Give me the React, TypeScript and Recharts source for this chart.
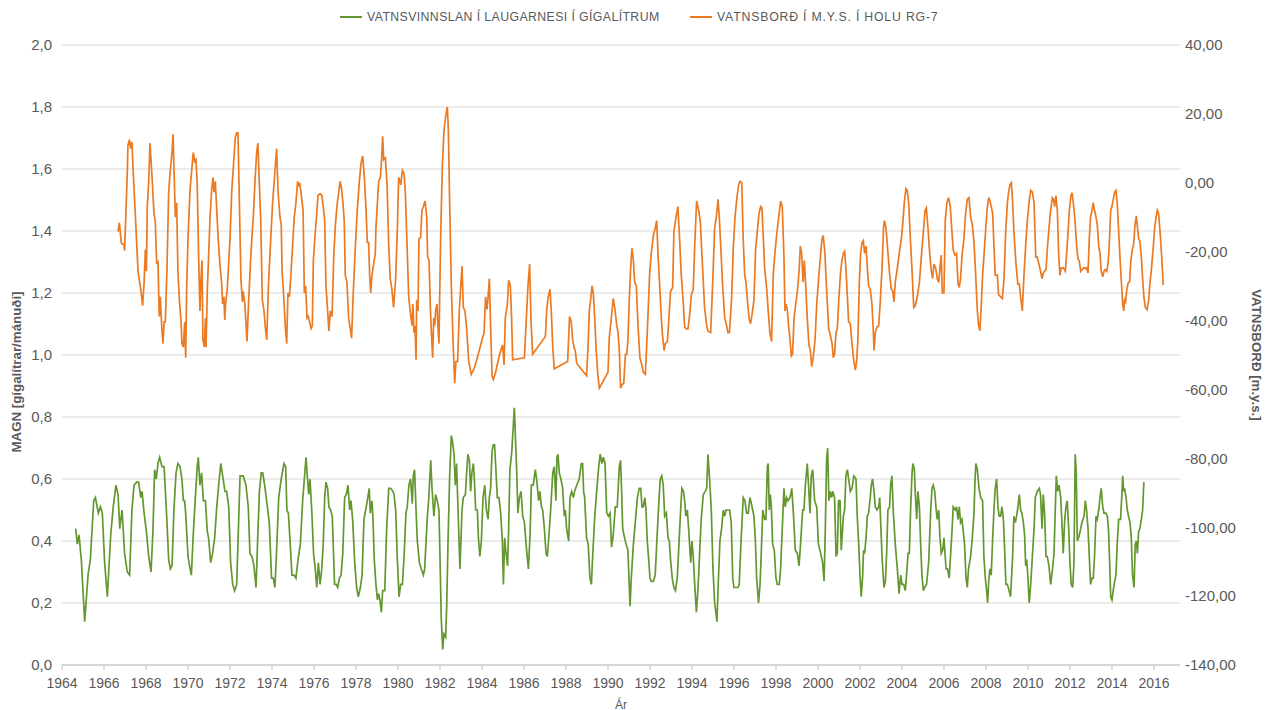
import React from 'react';
import { LineChart, Line, XAxis, YAxis, CartesianGrid } from 'recharts';

// [year, gigalitres per month]
const green1960s: [number, number][] = [
  [1964.65, 0.44], [1964.73, 0.39], [1964.81, 0.42], [1964.92, 0.34], [1965.08, 0.14], [1965.24, 0.29], [1965.35, 0.34],
  [1965.51, 0.53], [1965.59, 0.54], [1965.73, 0.49], [1965.83, 0.51], [1965.92, 0.49], [1966.03, 0.33], [1966.16, 0.22],
  [1966.32, 0.42], [1966.44, 0.51], [1966.57, 0.58], [1966.67, 0.55], [1966.75, 0.44], [1966.86, 0.5], [1966.98, 0.36],
  [1967.11, 0.3], [1967.22, 0.29], [1967.33, 0.5], [1967.43, 0.58], [1967.56, 0.59], [1967.65, 0.59], [1967.75, 0.54],
  [1967.81, 0.56], [1967.91, 0.49], [1968.02, 0.43], [1968.13, 0.35], [1968.24, 0.3], [1968.33, 0.43], [1968.41, 0.63],
  [1968.49, 0.6], [1968.57, 0.65], [1968.65, 0.67], [1968.76, 0.64], [1968.86, 0.64], [1968.97, 0.5], [1969.08, 0.34],
  [1969.16, 0.31], [1969.24, 0.32], [1969.33, 0.5], [1969.43, 0.62], [1969.52, 0.65], [1969.62, 0.64], [1969.71, 0.6],
  [1969.78, 0.53], [1969.84, 0.53], [1969.9, 0.48],
];

const green1970s: [number, number][] = [
  [1970.0, 0.35], [1970.1, 0.31], [1970.16, 0.29], [1970.25, 0.42], [1970.35, 0.54], [1970.44, 0.64], [1970.49, 0.67],
  [1970.57, 0.58], [1970.65, 0.62], [1970.73, 0.53], [1970.83, 0.53], [1970.92, 0.43], [1970.98, 0.41], [1971.08, 0.33],
  [1971.17, 0.36], [1971.27, 0.41], [1971.37, 0.51], [1971.46, 0.58], [1971.56, 0.65], [1971.65, 0.61], [1971.76, 0.56],
  [1971.84, 0.56], [1971.94, 0.51], [1972.03, 0.33], [1972.13, 0.26], [1972.22, 0.24], [1972.32, 0.26], [1972.4, 0.44],
  [1972.48, 0.61], [1972.56, 0.61], [1972.63, 0.61], [1972.76, 0.58], [1972.87, 0.51], [1972.95, 0.36], [1973.05, 0.35],
  [1973.14, 0.32], [1973.24, 0.25], [1973.32, 0.41], [1973.4, 0.56], [1973.49, 0.62], [1973.56, 0.62], [1973.65, 0.58],
  [1973.78, 0.51], [1973.87, 0.46], [1973.98, 0.28], [1974.06, 0.28], [1974.14, 0.25], [1974.22, 0.37], [1974.32, 0.54],
  [1974.44, 0.6], [1974.57, 0.65], [1974.65, 0.64], [1974.71, 0.5], [1974.78, 0.49], [1974.86, 0.4], [1974.95, 0.29],
  [1975.05, 0.29], [1975.14, 0.28], [1975.24, 0.34], [1975.35, 0.39], [1975.46, 0.53], [1975.54, 0.6], [1975.62, 0.67],
  [1975.68, 0.61], [1975.75, 0.55], [1975.81, 0.6], [1975.9, 0.49], [1975.98, 0.36], [1976.06, 0.31], [1976.13, 0.25],
  [1976.21, 0.33], [1976.29, 0.26], [1976.37, 0.31], [1976.44, 0.39], [1976.51, 0.54], [1976.57, 0.59], [1976.65, 0.57],
  [1976.71, 0.51], [1976.79, 0.5], [1976.87, 0.48], [1976.94, 0.34], [1976.98, 0.26], [1977.06, 0.26], [1977.13, 0.25],
  [1977.21, 0.28], [1977.29, 0.29], [1977.37, 0.36], [1977.46, 0.54], [1977.54, 0.55], [1977.62, 0.58], [1977.7, 0.5],
  [1977.76, 0.53], [1977.84, 0.47], [1977.94, 0.33], [1978.03, 0.25], [1978.11, 0.22], [1978.21, 0.25], [1978.29, 0.29],
  [1978.38, 0.47], [1978.46, 0.5], [1978.54, 0.53], [1978.63, 0.57], [1978.68, 0.49], [1978.76, 0.53], [1978.81, 0.47],
  [1978.87, 0.34], [1978.95, 0.26], [1979.02, 0.21], [1979.08, 0.23], [1979.14, 0.21], [1979.21, 0.17], [1979.27, 0.24],
  [1979.37, 0.24], [1979.46, 0.44], [1979.56, 0.57], [1979.65, 0.57], [1979.76, 0.56], [1979.81, 0.55], [1979.89, 0.5],
  [1979.97, 0.34],
];

const green1980s: [number, number][] = [
  [1980.05, 0.22], [1980.13, 0.26], [1980.21, 0.26], [1980.29, 0.35], [1980.38, 0.49], [1980.44, 0.51], [1980.52, 0.58],
  [1980.6, 0.6], [1980.68, 0.52], [1980.73, 0.61], [1980.79, 0.63], [1980.86, 0.5], [1980.92, 0.4], [1981.02, 0.33],
  [1981.11, 0.31], [1981.21, 0.29], [1981.27, 0.31], [1981.33, 0.39], [1981.4, 0.48], [1981.46, 0.53], [1981.56, 0.66],
  [1981.62, 0.57], [1981.71, 0.48], [1981.79, 0.55], [1981.87, 0.53], [1981.95, 0.5], [1982.0, 0.35], [1982.06, 0.15],
  [1982.13, 0.05], [1982.19, 0.1], [1982.27, 0.09], [1982.32, 0.19], [1982.38, 0.39], [1982.46, 0.61], [1982.54, 0.74],
  [1982.6, 0.72], [1982.67, 0.68], [1982.73, 0.58], [1982.79, 0.65], [1982.86, 0.5], [1982.95, 0.31], [1983.05, 0.5],
  [1983.11, 0.54], [1983.21, 0.55], [1983.27, 0.62], [1983.33, 0.68], [1983.4, 0.66], [1983.46, 0.56], [1983.52, 0.62],
  [1983.59, 0.65], [1983.63, 0.61], [1983.7, 0.5], [1983.78, 0.5], [1983.83, 0.41], [1983.9, 0.35], [1983.97, 0.4],
  [1984.05, 0.54], [1984.13, 0.58], [1984.21, 0.5], [1984.29, 0.47], [1984.35, 0.54], [1984.41, 0.57], [1984.48, 0.69],
  [1984.54, 0.71], [1984.6, 0.71], [1984.67, 0.62], [1984.73, 0.54], [1984.81, 0.54], [1984.89, 0.49], [1984.97, 0.4],
  [1985.02, 0.26], [1985.08, 0.41], [1985.13, 0.37], [1985.22, 0.32], [1985.27, 0.44], [1985.33, 0.63], [1985.41, 0.68],
  [1985.49, 0.77], [1985.54, 0.83], [1985.59, 0.74], [1985.65, 0.63], [1985.71, 0.49], [1985.78, 0.54], [1985.86, 0.56],
  [1985.94, 0.48], [1986.02, 0.46], [1986.1, 0.39], [1986.21, 0.31], [1986.29, 0.42], [1986.35, 0.58], [1986.44, 0.58],
  [1986.54, 0.63], [1986.6, 0.6], [1986.7, 0.53], [1986.76, 0.56], [1986.83, 0.51], [1986.89, 0.5], [1986.97, 0.44],
  [1987.05, 0.36], [1987.11, 0.35], [1987.17, 0.4], [1987.27, 0.5], [1987.37, 0.62], [1987.44, 0.64], [1987.52, 0.53],
  [1987.57, 0.67], [1987.62, 0.68], [1987.68, 0.62], [1987.76, 0.6], [1987.84, 0.57], [1987.92, 0.48], [1987.97, 0.5],
  [1988.03, 0.44], [1988.13, 0.4], [1988.19, 0.54], [1988.27, 0.56], [1988.35, 0.54], [1988.41, 0.56], [1988.51, 0.58],
  [1988.63, 0.6], [1988.73, 0.65], [1988.79, 0.65], [1988.84, 0.56], [1988.89, 0.54], [1988.98, 0.41], [1989.06, 0.39],
  [1989.14, 0.28], [1989.21, 0.26], [1989.27, 0.35], [1989.37, 0.48], [1989.46, 0.56], [1989.56, 0.64], [1989.63, 0.68],
  [1989.71, 0.65], [1989.78, 0.67], [1989.86, 0.65], [1989.94, 0.49],
];

const green1990s: [number, number][] = [
  [1990.02, 0.48], [1990.1, 0.49], [1990.17, 0.38], [1990.25, 0.42], [1990.35, 0.51], [1990.44, 0.51], [1990.54, 0.64],
  [1990.6, 0.66], [1990.65, 0.56], [1990.7, 0.44], [1990.76, 0.42], [1990.86, 0.39], [1990.95, 0.37], [1991.05, 0.19],
  [1991.11, 0.28], [1991.21, 0.39], [1991.3, 0.46], [1991.4, 0.54], [1991.49, 0.57], [1991.56, 0.57], [1991.62, 0.51],
  [1991.68, 0.51], [1991.76, 0.54], [1991.81, 0.5], [1991.87, 0.4], [1991.94, 0.34], [1992.0, 0.28], [1992.06, 0.27],
  [1992.16, 0.27], [1992.25, 0.29], [1992.32, 0.39], [1992.41, 0.51], [1992.49, 0.6], [1992.56, 0.61], [1992.63, 0.58],
  [1992.7, 0.48], [1992.78, 0.49], [1992.86, 0.41], [1992.92, 0.4], [1992.98, 0.34], [1993.06, 0.28], [1993.14, 0.25],
  [1993.21, 0.24], [1993.3, 0.28], [1993.38, 0.39], [1993.46, 0.5], [1993.52, 0.57], [1993.6, 0.56], [1993.65, 0.53],
  [1993.71, 0.48], [1993.78, 0.5], [1993.84, 0.44], [1993.94, 0.33], [1994.0, 0.4], [1994.06, 0.35], [1994.13, 0.26],
  [1994.21, 0.17], [1994.29, 0.25], [1994.37, 0.37], [1994.44, 0.47], [1994.54, 0.55], [1994.63, 0.56], [1994.7, 0.57],
  [1994.76, 0.68], [1994.83, 0.61], [1994.92, 0.5], [1995.0, 0.31], [1995.08, 0.2], [1995.14, 0.17], [1995.19, 0.14],
  [1995.25, 0.26], [1995.33, 0.4], [1995.41, 0.44], [1995.49, 0.5], [1995.56, 0.48], [1995.62, 0.5], [1995.71, 0.5],
  [1995.79, 0.5], [1995.87, 0.46], [1995.94, 0.28], [1996.0, 0.25], [1996.1, 0.25], [1996.19, 0.25], [1996.25, 0.26],
  [1996.33, 0.39], [1996.44, 0.54], [1996.52, 0.53], [1996.6, 0.49], [1996.68, 0.49], [1996.76, 0.54], [1996.83, 0.52],
  [1996.89, 0.5], [1996.95, 0.48], [1997.02, 0.4], [1997.08, 0.28], [1997.17, 0.2], [1997.24, 0.26], [1997.3, 0.36],
  [1997.37, 0.5], [1997.46, 0.47], [1997.52, 0.47], [1997.59, 0.64], [1997.63, 0.65], [1997.68, 0.5], [1997.73, 0.55],
  [1997.78, 0.51], [1997.84, 0.39], [1997.92, 0.37], [1998.0, 0.28], [1998.06, 0.26], [1998.16, 0.26], [1998.22, 0.31],
  [1998.3, 0.44], [1998.38, 0.57], [1998.44, 0.51], [1998.51, 0.54], [1998.57, 0.53], [1998.67, 0.54], [1998.75, 0.57],
  [1998.83, 0.49], [1998.92, 0.37], [1999.02, 0.36], [1999.1, 0.32], [1999.17, 0.39], [1999.27, 0.5], [1999.33, 0.5],
  [1999.4, 0.58], [1999.49, 0.65], [1999.56, 0.57], [1999.62, 0.49], [1999.68, 0.61], [1999.75, 0.63], [1999.84, 0.53],
  [1999.94, 0.51],
];

const green2000s: [number, number][] = [
  [2000.02, 0.39], [2000.13, 0.36], [2000.22, 0.33], [2000.29, 0.27], [2000.35, 0.44], [2000.41, 0.66], [2000.46, 0.7],
  [2000.52, 0.53], [2000.59, 0.56], [2000.65, 0.54], [2000.71, 0.56], [2000.79, 0.54], [2000.86, 0.35], [2000.92, 0.36],
  [2000.98, 0.53], [2001.05, 0.53], [2001.11, 0.37], [2001.21, 0.48], [2001.27, 0.5], [2001.33, 0.61], [2001.4, 0.63],
  [2001.46, 0.6], [2001.54, 0.56], [2001.62, 0.57], [2001.71, 0.61], [2001.81, 0.6], [2001.87, 0.48], [2001.94, 0.39],
  [2002.0, 0.29], [2002.06, 0.22], [2002.13, 0.29], [2002.17, 0.37], [2002.22, 0.36], [2002.29, 0.41], [2002.35, 0.48],
  [2002.41, 0.49], [2002.49, 0.54], [2002.54, 0.58], [2002.6, 0.6], [2002.67, 0.56], [2002.73, 0.51], [2002.81, 0.5],
  [2002.89, 0.51], [2002.94, 0.54], [2002.98, 0.47], [2003.05, 0.35], [2003.14, 0.25], [2003.21, 0.27], [2003.27, 0.36],
  [2003.33, 0.5], [2003.41, 0.51], [2003.46, 0.58], [2003.52, 0.61], [2003.59, 0.49], [2003.68, 0.39], [2003.78, 0.31],
  [2003.86, 0.23], [2003.94, 0.29], [2004.0, 0.26], [2004.08, 0.26], [2004.16, 0.24], [2004.24, 0.31], [2004.29, 0.36],
  [2004.35, 0.36], [2004.41, 0.5], [2004.48, 0.62], [2004.52, 0.65], [2004.59, 0.63], [2004.63, 0.56], [2004.7, 0.47],
  [2004.76, 0.56], [2004.83, 0.51], [2004.89, 0.39], [2004.95, 0.29], [2005.02, 0.24], [2005.08, 0.25], [2005.17, 0.26],
  [2005.27, 0.33], [2005.37, 0.5], [2005.43, 0.57], [2005.49, 0.58], [2005.56, 0.56], [2005.63, 0.5], [2005.68, 0.47],
  [2005.75, 0.5], [2005.81, 0.41], [2005.87, 0.36], [2005.94, 0.37], [2006.0, 0.41], [2006.1, 0.31], [2006.17, 0.31],
  [2006.25, 0.28], [2006.32, 0.36], [2006.38, 0.43], [2006.44, 0.51], [2006.54, 0.5], [2006.6, 0.51], [2006.67, 0.47],
  [2006.73, 0.51], [2006.79, 0.46], [2006.86, 0.47], [2006.92, 0.43], [2006.98, 0.39], [2007.05, 0.28], [2007.11, 0.25],
  [2007.17, 0.31], [2007.27, 0.35], [2007.35, 0.41], [2007.43, 0.49], [2007.48, 0.6], [2007.52, 0.65], [2007.59, 0.63],
  [2007.67, 0.57], [2007.75, 0.54], [2007.84, 0.53], [2007.9, 0.35], [2007.97, 0.28], [2008.03, 0.24], [2008.08, 0.2],
  [2008.13, 0.27], [2008.19, 0.31], [2008.25, 0.29], [2008.32, 0.41], [2008.38, 0.5], [2008.44, 0.57], [2008.51, 0.6],
  [2008.57, 0.51], [2008.63, 0.48], [2008.7, 0.48], [2008.76, 0.51], [2008.83, 0.47], [2008.89, 0.37], [2008.95, 0.26],
  [2009.02, 0.26], [2009.1, 0.24], [2009.17, 0.22], [2009.27, 0.35], [2009.33, 0.48], [2009.4, 0.46], [2009.46, 0.48],
  [2009.52, 0.51], [2009.59, 0.55], [2009.65, 0.5], [2009.71, 0.49], [2009.78, 0.46], [2009.84, 0.42], [2009.89, 0.32],
  [2009.94, 0.34],
];

const green2010s: [number, number][] = [
  [2010.0, 0.28], [2010.06, 0.2], [2010.13, 0.26], [2010.21, 0.35], [2010.29, 0.44], [2010.35, 0.54], [2010.44, 0.56],
  [2010.54, 0.57], [2010.6, 0.55], [2010.67, 0.44], [2010.73, 0.55], [2010.79, 0.49], [2010.86, 0.35], [2010.92, 0.35],
  [2011.0, 0.32], [2011.08, 0.26], [2011.17, 0.31], [2011.24, 0.36], [2011.3, 0.5], [2011.35, 0.61], [2011.41, 0.56],
  [2011.48, 0.58], [2011.56, 0.54], [2011.63, 0.44], [2011.68, 0.36], [2011.75, 0.47], [2011.81, 0.51], [2011.87, 0.53],
  [2011.94, 0.44], [2012.0, 0.33], [2012.06, 0.26], [2012.13, 0.25], [2012.19, 0.33], [2012.25, 0.68], [2012.3, 0.62],
  [2012.35, 0.4], [2012.41, 0.41], [2012.48, 0.43], [2012.57, 0.46], [2012.67, 0.48], [2012.73, 0.53], [2012.79, 0.5],
  [2012.86, 0.44], [2012.92, 0.35], [2012.98, 0.26], [2013.05, 0.28], [2013.11, 0.28], [2013.17, 0.35], [2013.24, 0.48],
  [2013.3, 0.47], [2013.37, 0.5], [2013.43, 0.54], [2013.49, 0.57], [2013.56, 0.51], [2013.62, 0.49], [2013.71, 0.49],
  [2013.78, 0.48], [2013.84, 0.43], [2013.89, 0.33], [2013.94, 0.22], [2014.0, 0.21], [2014.06, 0.24], [2014.13, 0.27],
  [2014.19, 0.29], [2014.25, 0.39], [2014.32, 0.47], [2014.41, 0.47], [2014.48, 0.56], [2014.51, 0.61], [2014.56, 0.56],
  [2014.6, 0.57], [2014.67, 0.54], [2014.73, 0.5], [2014.79, 0.48], [2014.86, 0.46], [2014.92, 0.41], [2014.98, 0.29],
  [2015.05, 0.25], [2015.11, 0.39], [2015.16, 0.4], [2015.21, 0.36], [2015.27, 0.43], [2015.33, 0.44], [2015.4, 0.47],
  [2015.46, 0.5], [2015.52, 0.59],
];

// [year, metres above sea level]
const orange1960s: [number, number][] = [
  [1966.67, -14.2], [1966.73, -11.6], [1966.83, -17.6], [1966.94, -17.9], [1966.98, -19.7], [1967.06, -5.8], [1967.11, 3.1],
  [1967.14, 10.9], [1967.21, 12.5], [1967.27, 9.9], [1967.33, 11.9], [1967.38, 4.6], [1967.49, -9.0], [1967.62, -25.7],
  [1967.75, -30.9], [1967.84, -35.7], [1967.91, -28.9], [1967.97, -19.4], [1968.02, -25.7], [1968.06, -6.9], [1968.13, 0.4],
  [1968.19, 11.5], [1968.29, 1.5], [1968.38, -9.0], [1968.44, -11.0], [1968.51, -23.6], [1968.57, -22.6], [1968.63, -38.8],
  [1968.68, -33.1], [1968.76, -43.0], [1968.81, -46.7], [1968.86, -40.4], [1968.92, -40.4], [1969.0, -24.7], [1969.08, -2.7],
  [1969.13, 1.5], [1969.19, 5.7], [1969.24, 8.8], [1969.29, 14.1], [1969.33, 4.6], [1969.4, -10.0], [1969.46, -5.8],
  [1969.52, -25.7], [1969.59, -34.1], [1969.67, -40.4], [1969.71, -46.7], [1969.78, -47.7], [1969.84, -40.4], [1969.89, -50.8],
  [1969.94, -29.9],
];

const orange1970s: [number, number][] = [
  [1970.0, -16.3], [1970.1, -1.7], [1970.19, 4.6], [1970.25, 8.8], [1970.32, 6.2], [1970.38, 6.7], [1970.44, -0.6],
  [1970.51, -22.6], [1970.57, -37.2], [1970.62, -27.8], [1970.67, -22.6], [1970.71, -45.6], [1970.78, -47.7], [1970.83, -39.3],
  [1970.86, -47.7], [1970.92, -30.9], [1970.98, -21.6], [1971.05, -10.0], [1971.13, -1.7], [1971.19, 1.5], [1971.24, -2.7],
  [1971.3, 0.4], [1971.37, -8.0], [1971.44, -16.3], [1971.52, -23.6], [1971.6, -28.9], [1971.65, -35.2], [1971.71, -33.1],
  [1971.75, -39.8], [1971.79, -35.2], [1971.87, -30.9], [1972.0, -16.3], [1972.08, -2.7], [1972.16, 4.6], [1972.25, 13.0],
  [1972.32, 14.5], [1972.38, 14.5], [1972.44, -3.7], [1972.52, -27.8], [1972.59, -34.6], [1972.63, -31.5], [1972.71, -35.2],
  [1972.81, -46.1], [1972.89, -34.1], [1972.98, -22.6], [1973.06, -14.2], [1973.11, -10.0], [1973.19, 0.4], [1973.27, 8.8],
  [1973.33, 11.5], [1973.38, 2.6], [1973.46, -10.0], [1973.54, -34.1], [1973.62, -37.2], [1973.68, -41.9], [1973.75, -45.6],
  [1973.83, -29.9], [1973.94, -16.3], [1974.03, -5.8], [1974.13, 2.6], [1974.22, 9.9], [1974.29, -2.7], [1974.38, -10.0],
  [1974.44, -12.1], [1974.48, -25.7], [1974.56, -33.1], [1974.63, -41.5], [1974.7, -46.7], [1974.76, -32.0], [1974.83, -33.1],
  [1974.9, -26.8], [1974.98, -18.4], [1975.06, -10.0], [1975.14, -5.8], [1975.22, 0.4], [1975.27, -1.1], [1975.32, 0.0],
  [1975.4, -3.7], [1975.48, -8.0], [1975.54, -32.0], [1975.6, -29.9], [1975.67, -39.3], [1975.73, -38.8], [1975.79, -40.4],
  [1975.86, -42.3], [1975.92, -41.5], [1975.97, -22.6], [1976.05, -15.3], [1976.13, -9.0], [1976.19, -3.7], [1976.29, -3.2],
  [1976.38, -3.7], [1976.44, -6.9], [1976.51, -11.0], [1976.57, -29.9], [1976.65, -37.2], [1976.71, -43.0], [1976.78, -37.2],
  [1976.86, -38.8], [1976.94, -21.6], [1977.02, -12.1], [1977.11, -5.8], [1977.17, -3.2], [1977.24, 0.4], [1977.3, -1.1],
  [1977.38, -5.8], [1977.44, -11.0], [1977.49, -26.8], [1977.57, -28.9], [1977.65, -39.3], [1977.73, -42.4], [1977.79, -45.1],
  [1977.87, -32.0], [1977.97, -18.4], [1978.06, -8.0], [1978.16, 0.4], [1978.24, 5.7], [1978.32, 7.8], [1978.4, 1.5],
  [1978.48, -8.0], [1978.54, -17.3], [1978.6, -17.3], [1978.65, -26.8], [1978.7, -32.0], [1978.76, -26.8], [1978.84, -23.6],
  [1978.92, -20.5], [1978.95, -13.2], [1979.02, -5.8], [1979.08, 0.4], [1979.16, 1.5], [1979.21, 5.7], [1979.27, 13.5],
  [1979.32, 6.7], [1979.4, 7.2], [1979.48, -0.6], [1979.56, -18.4], [1979.63, -27.8], [1979.71, -30.9], [1979.79, -36.2],
  [1979.89, -27.8], [1979.97, -13.2],
];

const orange1980s: [number, number][] = [
  [1980.03, 1.5], [1980.1, 0.4], [1980.13, -0.6], [1980.21, 3.6], [1980.29, 2.6], [1980.35, -2.7], [1980.41, -14.2],
  [1980.51, -33.1], [1980.6, -38.3], [1980.67, -41.5], [1980.71, -35.2], [1980.76, -43.5], [1980.81, -41.5], [1980.86, -51.4],
  [1980.89, -34.1], [1980.95, -37.2], [1981.0, -16.3], [1981.08, -15.8], [1981.14, -8.0], [1981.21, -6.9], [1981.29, -5.3],
  [1981.37, -10.0], [1981.41, -21.6], [1981.48, -22.6], [1981.54, -36.2], [1981.59, -43.5], [1981.65, -50.8], [1981.7, -39.3],
  [1981.75, -41.5], [1981.79, -37.2], [1981.86, -35.2], [1981.9, -41.5], [1981.95, -46.7], [1982.03, -16.3], [1982.11, 4.6],
  [1982.19, 15.1], [1982.27, 19.3], [1982.35, 22.0], [1982.4, 15.1], [1982.46, -5.8], [1982.54, -29.9], [1982.62, -45.6],
  [1982.7, -58.2], [1982.76, -51.9], [1982.84, -51.9], [1982.92, -37.2], [1982.98, -30.9], [1983.05, -24.2], [1983.11, -36.2],
  [1983.19, -37.2], [1983.27, -42.4], [1983.37, -51.9], [1983.49, -55.6], [1983.62, -54.0], [1983.75, -51.4], [1983.87, -48.7],
  [1984.0, -45.6], [1984.1, -43.5], [1984.17, -33.1], [1984.24, -36.8], [1984.29, -33.1], [1984.35, -27.8], [1984.41, -41.5],
  [1984.48, -56.0], [1984.54, -57.1], [1984.65, -55.0], [1984.76, -51.9], [1984.89, -48.7], [1984.98, -47.1], [1985.05, -52.9],
  [1985.11, -39.3], [1985.21, -35.2], [1985.27, -28.3], [1985.35, -29.9], [1985.41, -39.3], [1985.46, -51.4], [1986.02, -50.8],
  [1986.13, -37.2], [1986.19, -29.9], [1986.27, -23.6], [1986.33, -39.3], [1986.41, -49.8], [1987.02, -44.6], [1987.08, -37.2],
  [1987.14, -33.6], [1987.24, -30.9], [1987.3, -37.2], [1987.37, -47.7], [1987.44, -54.0], [1988.08, -51.9], [1988.13, -44.6],
  [1988.17, -38.8], [1988.25, -40.4], [1988.32, -45.6], [1988.38, -47.7], [1988.44, -48.7], [1988.51, -52.4], [1988.98, -56.0],
  [1989.05, -47.7], [1989.11, -37.2], [1989.19, -33.1], [1989.24, -29.9], [1989.3, -32.0], [1989.37, -39.3], [1989.43, -47.7],
  [1989.52, -56.0], [1989.59, -59.6],
];

const orange1990s: [number, number][] = [
  [1990.0, -55.0], [1990.06, -45.1], [1990.16, -39.3], [1990.25, -33.6], [1990.32, -36.2], [1990.41, -40.9], [1990.48, -43.7],
  [1990.54, -48.7], [1990.6, -59.6], [1990.67, -58.6], [1990.75, -58.2], [1990.83, -49.8], [1990.89, -49.8], [1990.95, -45.6],
  [1991.02, -33.1], [1991.08, -24.7], [1991.14, -19.0], [1991.21, -22.6], [1991.27, -28.9], [1991.35, -29.9], [1991.43, -41.5],
  [1991.52, -50.8], [1991.59, -52.4], [1991.68, -55.0], [1991.78, -55.6], [1991.84, -47.7], [1991.9, -39.3], [1991.98, -26.8],
  [1992.06, -20.5], [1992.16, -15.3], [1992.25, -13.2], [1992.32, -11.0], [1992.38, -20.5], [1992.48, -32.0], [1992.57, -42.4],
  [1992.67, -48.7], [1992.73, -46.7], [1992.83, -46.1], [1992.89, -40.4], [1992.98, -31.5], [1993.08, -30.4], [1993.14, -14.2],
  [1993.24, -10.0], [1993.33, -6.9], [1993.41, -16.3], [1993.49, -26.8], [1993.59, -35.2], [1993.65, -41.9], [1993.73, -42.4],
  [1993.81, -42.4], [1993.89, -38.3], [1993.97, -32.5], [1994.06, -30.9], [1994.13, -18.4], [1994.22, -5.3], [1994.32, -8.0],
  [1994.4, -11.6], [1994.48, -21.6], [1994.54, -28.9], [1994.6, -36.2], [1994.7, -41.5], [1994.76, -43.0], [1994.89, -43.5],
  [1994.98, -29.9], [1995.08, -13.2], [1995.16, -10.0], [1995.24, -4.8], [1995.3, -10.0], [1995.37, -18.4], [1995.46, -29.9],
  [1995.56, -39.3], [1995.63, -40.9], [1995.71, -43.5], [1995.78, -43.5], [1995.83, -39.3], [1995.89, -33.1], [1995.97, -18.4],
  [1996.05, -10.0], [1996.13, -4.8], [1996.22, -0.6], [1996.29, 0.4], [1996.37, 0.0], [1996.44, -16.3], [1996.51, -26.8],
  [1996.57, -28.9], [1996.67, -36.2], [1996.73, -39.8], [1996.79, -40.9], [1996.86, -38.3], [1996.95, -34.1], [1997.03, -19.4],
  [1997.11, -14.2], [1997.19, -9.0], [1997.27, -6.9], [1997.33, -7.3], [1997.4, -16.3], [1997.46, -24.7], [1997.56, -30.9],
  [1997.63, -37.2], [1997.71, -43.5], [1997.79, -46.1], [1997.87, -26.8], [1997.95, -20.5], [1998.03, -15.3], [1998.13, -10.0],
  [1998.22, -5.3], [1998.3, -6.9], [1998.38, -21.6], [1998.43, -37.2], [1998.48, -35.2], [1998.54, -36.8], [1998.6, -41.5],
  [1998.67, -45.6], [1998.73, -50.3], [1998.79, -49.8], [1998.86, -39.3], [1998.94, -35.2], [1999.02, -31.5], [1999.1, -25.7],
  [1999.16, -18.4], [1999.22, -20.5], [1999.29, -28.9], [1999.35, -22.6], [1999.41, -28.9], [1999.49, -39.3], [1999.57, -47.1],
  [1999.64, -48.7], [1999.7, -53.4], [1999.78, -50.3], [1999.86, -45.6], [1999.94, -35.2],
];

const orange2000s: [number, number][] = [
  [2000.03, -27.8], [2000.13, -20.5], [2000.19, -16.3], [2000.25, -15.3], [2000.33, -20.5], [2000.41, -30.9], [2000.51, -42.4],
  [2000.6, -44.6], [2000.67, -46.7], [2000.73, -50.8], [2000.79, -49.8], [2000.86, -43.5], [2000.92, -42.4], [2001.0, -33.1],
  [2001.08, -25.7], [2001.14, -22.6], [2001.21, -20.5], [2001.27, -19.9], [2001.33, -24.7], [2001.4, -33.1], [2001.46, -40.4],
  [2001.54, -40.9], [2001.62, -46.7], [2001.7, -51.4], [2001.78, -54.4], [2001.84, -51.9], [2001.9, -45.6], [2001.97, -28.9],
  [2002.03, -20.5], [2002.1, -17.3], [2002.16, -16.8], [2002.22, -20.5], [2002.29, -18.4], [2002.35, -24.7], [2002.41, -29.9],
  [2002.49, -30.9], [2002.57, -35.2], [2002.63, -42.4], [2002.67, -48.7], [2002.73, -43.5], [2002.81, -41.9], [2002.89, -41.5],
  [2002.97, -34.1], [2003.05, -24.7], [2003.13, -12.1], [2003.17, -11.0], [2003.24, -13.2], [2003.32, -19.4], [2003.4, -25.7],
  [2003.49, -30.9], [2003.56, -31.5], [2003.62, -34.6], [2003.68, -28.9], [2003.78, -24.7], [2003.87, -20.5], [2003.97, -16.3],
  [2004.05, -11.0], [2004.11, -5.8], [2004.19, -1.7], [2004.25, -2.2], [2004.32, -5.8], [2004.4, -16.3], [2004.49, -26.8],
  [2004.56, -36.2], [2004.63, -35.7], [2004.73, -33.1], [2004.83, -28.9], [2004.92, -21.6], [2005.02, -14.2], [2005.1, -8.0],
  [2005.16, -7.3], [2005.24, -13.2], [2005.32, -20.5], [2005.4, -25.7], [2005.46, -27.8], [2005.52, -23.6], [2005.6, -24.7],
  [2005.68, -27.8], [2005.75, -28.9], [2005.81, -24.7], [2005.87, -21.0], [2005.92, -32.0], [2006.0, -32.0], [2006.06, -11.0],
  [2006.14, -5.8], [2006.22, -4.3], [2006.3, -6.9], [2006.38, -14.2], [2006.44, -19.4], [2006.52, -21.0], [2006.6, -20.5],
  [2006.67, -29.4], [2006.73, -30.4], [2006.79, -27.8], [2006.87, -20.5], [2006.95, -16.3], [2007.03, -9.0], [2007.11, -4.8],
  [2007.19, -4.3], [2007.27, -10.0], [2007.35, -12.1], [2007.43, -17.3], [2007.51, -26.8], [2007.59, -37.2], [2007.65, -41.5],
  [2007.71, -43.0], [2007.78, -35.2], [2007.84, -26.8], [2007.9, -21.6], [2007.98, -14.2], [2008.06, -7.3], [2008.13, -4.3],
  [2008.19, -5.3], [2008.25, -6.9], [2008.32, -9.0], [2008.38, -18.4], [2008.44, -26.8], [2008.54, -26.8], [2008.6, -32.5],
  [2008.7, -33.1], [2008.78, -33.6], [2008.86, -27.8], [2008.94, -14.2], [2009.02, -5.8], [2009.08, -2.7], [2009.14, -0.6],
  [2009.21, 0.0], [2009.27, -5.8], [2009.33, -14.2], [2009.43, -23.6], [2009.52, -29.4], [2009.59, -29.4], [2009.65, -33.1],
  [2009.73, -37.2], [2009.81, -26.8], [2009.89, -18.4], [2009.97, -11.0],
];

const orange2010s: [number, number][] = [
  [2010.05, -5.8], [2010.13, -2.2], [2010.21, -2.7], [2010.29, -5.8], [2010.37, -21.6], [2010.44, -21.6], [2010.52, -23.6],
  [2010.6, -25.7], [2010.67, -27.8], [2010.73, -26.2], [2010.79, -25.7], [2010.86, -25.2], [2010.92, -19.4], [2011.0, -13.2],
  [2011.08, -8.0], [2011.16, -4.3], [2011.22, -4.8], [2011.27, -6.9], [2011.33, -3.7], [2011.4, -8.0], [2011.46, -20.5],
  [2011.52, -26.8], [2011.59, -24.7], [2011.68, -24.7], [2011.78, -25.7], [2011.89, -16.3], [2011.97, -8.0], [2012.05, -3.7],
  [2012.1, -2.9], [2012.16, -5.8], [2012.24, -11.0], [2012.32, -18.4], [2012.38, -22.1], [2012.44, -22.6], [2012.51, -25.7],
  [2012.57, -25.2], [2012.67, -24.7], [2012.73, -24.9], [2012.79, -24.7], [2012.86, -26.2], [2012.92, -16.3], [2012.98, -10.0],
  [2013.05, -8.0], [2013.11, -5.8], [2013.17, -8.0], [2013.24, -10.0], [2013.3, -12.1], [2013.37, -18.4], [2013.43, -20.5],
  [2013.49, -25.7], [2013.56, -27.3], [2013.62, -25.7], [2013.68, -25.2], [2013.75, -25.7], [2013.81, -23.6], [2013.87, -18.4],
  [2013.94, -8.0], [2014.0, -6.9], [2014.06, -4.8], [2014.13, -2.7], [2014.19, -2.2], [2014.25, -5.8], [2014.32, -14.2],
  [2014.38, -21.6], [2014.44, -27.8], [2014.51, -35.2], [2014.56, -37.2], [2014.6, -34.1], [2014.65, -34.6], [2014.71, -30.9],
  [2014.78, -28.9], [2014.84, -28.7], [2014.9, -22.6], [2014.97, -19.4], [2015.03, -17.9], [2015.1, -12.1], [2015.16, -9.6],
  [2015.22, -13.2], [2015.27, -16.3], [2015.33, -16.9], [2015.4, -21.6], [2015.46, -27.8], [2015.52, -33.1], [2015.59, -36.2],
  [2015.67, -36.8], [2015.75, -34.1], [2015.81, -28.9], [2015.87, -25.7], [2015.97, -18.4], [2016.03, -13.2], [2016.1, -10.0],
  [2016.16, -8.0], [2016.22, -9.0], [2016.29, -14.2], [2016.37, -21.6], [2016.44, -29.7],
];

const yearTicks = [1964, 1966, 1968, 1970, 1972, 1974, 1976, 1978, 1980, 1982, 1984, 1986, 1988, 1990,
  1992, 1994, 1996, 1998, 2000, 2002, 2004, 2006, 2008, 2010, 2012, 2014, 2016];
const leftTicks = [0, 0.2, 0.4, 0.6, 0.8, 1.0, 1.2, 1.4, 1.6, 1.8, 2.0];
const rightTicks = [-140, -120, -100, -80, -60, -40, -20, 0, 20, 40];

const greenName = 'VATNSVINNSLAN Í LAUGARNESI Í GÍGALÍTRUM';
const orangeName = 'VATNSBORÐ Í M.Y.S. Í HOLU RG-7';

const toRows = (pts: [number, number][]) => pts.map(([x, v]) => ({ x, v }));
const greenData = toRows([...green1960s, ...green1970s, ...green1980s, ...green1990s, ...green2000s, ...green2010s]);
const orangeData = toRows([...orange1960s, ...orange1970s, ...orange1980s, ...orange1990s, ...orange2000s, ...orange2010s]);

const GREEN = '#64972f';
const ORANGE = '#eb7a22';
const TEXT = '#595959';
const FONT = '"Liberation Sans", Arial, sans-serif';

const comma = (v: number, d: number) => v.toFixed(d).replace('.', ',');

const legendText: React.CSSProperties = { fontSize: 12.3, letterSpacing: 0.4, color: TEXT, whiteSpace: 'nowrap' };

const App: React.FC = () => {
  return (
    <div style={{ position: 'absolute', left: 0, top: 0, width: 1270, height: 710, background: '#fff', fontFamily: FONT }}>
      <LineChart width={1270} height={710} margin={{ top: 45, right: 0, bottom: 0, left: 0 }}>
        <CartesianGrid vertical={false} stroke="#d9d9d9" yAxisId="left" />
        <XAxis
          dataKey="x"
          type="number"
          domain={[1964, 2017.24]}
          ticks={yearTicks}
          allowDataOverflow
          height={45}
          stroke="#bfbfbf"
          tickSize={5}
          tickMargin={8}
          tick={{ fill: TEXT, fontSize: 14, fontFamily: FONT }}
        />
        <YAxis
          yAxisId="left"
          orientation="left"
          width={62}
          domain={[0, 2]}
          ticks={leftTicks}
          axisLine={false}
          tickLine={false}
          tickMargin={4}
          tickFormatter={(v: number) => comma(v, 1)}
          tick={{ fill: TEXT, fontSize: 15, fontFamily: FONT }}
        />
        <YAxis
          yAxisId="right"
          orientation="right"
          width={90}
          domain={[-140, 40]}
          ticks={rightTicks}
          axisLine={false}
          tickLine={false}
          tickSize={3}
          tickMargin={2}
          tickFormatter={(v: number) => comma(v, 2)}
          tick={{ fill: TEXT, fontSize: 15, fontFamily: FONT }}
        />
        <Line
          yAxisId="left"
          data={greenData}
          dataKey="v"
          name={greenName}
          type="linear"
          stroke={GREEN}
          strokeWidth={1.7}
          dot={false}
          isAnimationActive={false}
        />
        <Line
          yAxisId="right"
          data={orangeData}
          dataKey="v"
          name={orangeName}
          type="linear"
          stroke={ORANGE}
          strokeWidth={1.7}
          dot={false}
          isAnimationActive={false}
        />
      </LineChart>

      {/* legend */}
      <div style={{ position: 'absolute', top: 10, left: 340, display: 'flex', alignItems: 'center' }}>
        <span style={{ display: 'inline-block', width: 22, height: 2, background: GREEN, marginRight: 5 }} />
        <span style={legendText}>{greenName}</span>
      </div>
      <div style={{ position: 'absolute', top: 10, left: 690, display: 'flex', alignItems: 'center' }}>
        <span style={{ display: 'inline-block', width: 22, height: 2, background: ORANGE, marginRight: 5 }} />
        <span style={{ ...legendText, letterSpacing: 0.8 }}>{orangeName}</span>
      </div>

      {/* axis titles */}
      <div style={{ position: 'absolute', left: 16, top: 372, transform: 'translate(-50%, -50%) rotate(-90deg)', fontSize: 13.3, fontWeight: 'bold', color: TEXT, whiteSpace: 'nowrap' }}>
        MAGN [gígalítrar/mánuði]
      </div>
      <div style={{ position: 'absolute', left: 1256, top: 355, transform: 'translate(-50%, -50%) rotate(90deg)', fontSize: 13.3, fontWeight: 'bold', color: TEXT, whiteSpace: 'nowrap' }}>
        VATNSBORÐ [m.y.s.]
      </div>
      <div style={{ position: 'absolute', left: 621, top: 705, transform: 'translate(-50%, -50%)', fontSize: 12, color: TEXT }}>
        Ár
      </div>
    </div>
  );
};

export default App;
